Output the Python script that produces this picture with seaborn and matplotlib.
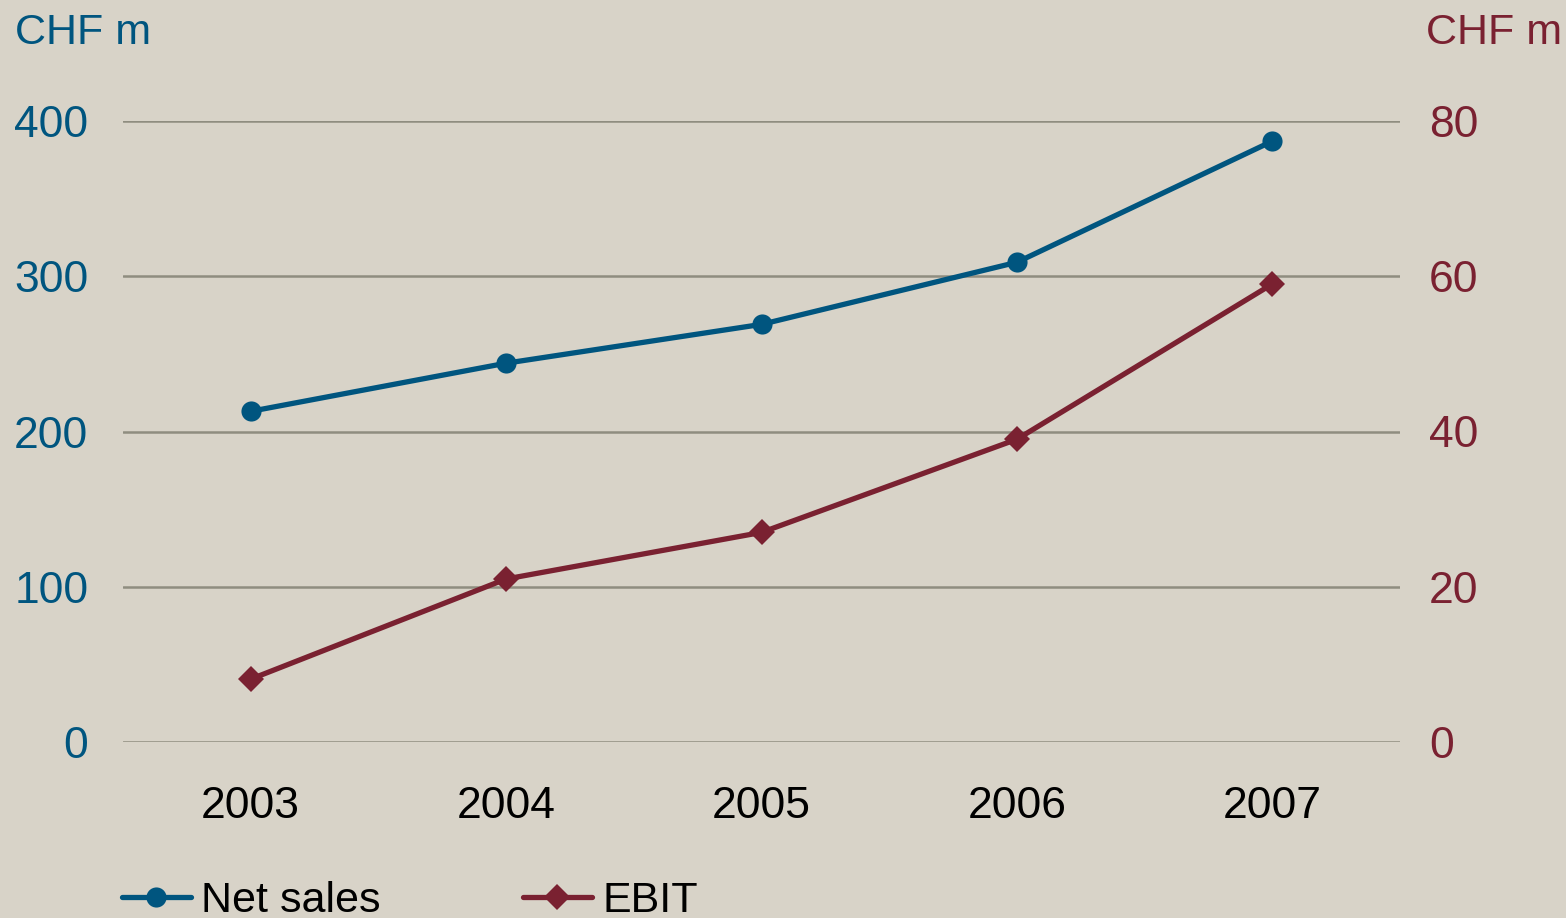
import matplotlib
matplotlib.use("Agg")
import matplotlib.pyplot as plt
import seaborn as sns
import pandas as pd
from matplotlib.lines import Line2D

years = ["2003", "2004", "2005", "2006", "2007"]
net_sales = [213, 244, 269, 309, 387]   # CHF m, left axis
ebit = [8.1, 21.0, 27.0, 39.0, 59.0]    # CHF m, right axis
left_ticks = [0, 100, 200, 300, 400]
right_ticks = [0, 20, 40, 60, 80]

BG = "#D8D3C8"
BLUE = "#00557F"
RED = "#7A2131"
GRID = "#8F8D80"

sns.set_theme(style="white")
plt.rcParams["font.family"] = ["Liberation Sans", "DejaVu Sans"]

df = pd.DataFrame({"year": years, "net_sales": net_sales, "ebit": ebit})

fig = plt.figure(figsize=(15.66, 9.18), dpi=100, facecolor=BG)
ax = fig.add_axes([123 / 1566, 1 - 742 / 918, (1400 - 123) / 1566, (742 - 121) / 918])
ax.set_facecolor(BG)
ax2 = ax.twinx()

LW = 3.8
sns.lineplot(data=df, x="year", y="net_sales", ax=ax, color=BLUE, lw=LW,
             marker="o", markersize=14.5, markeredgewidth=0, clip_on=False, zorder=5)
sns.lineplot(data=df, x="year", y="ebit", ax=ax2, color=RED, lw=LW,
             marker="D", markersize=13.5, markeredgewidth=0, clip_on=False, zorder=5)

ax.set_xlim(-0.5, 4.5)
ax.set_ylim(0, 400)
ax2.set_ylim(0, 80)
ax.set_yticks(left_ticks)
ax2.set_yticks(right_ticks)

for y in left_ticks:
    ax.axhline(y, color=GRID, lw=1.8, zorder=1)

for a in (ax, ax2):
    for s in a.spines.values():
        s.set_visible(False)
    a.set_xlabel("")
    a.set_ylabel("")
    a.grid(False)

FS = 32
ax.tick_params(axis="y", length=0, pad=25, labelsize=FS, labelcolor=BLUE)
ax2.tick_params(axis="y", length=0, pad=21, labelsize=FS, labelcolor=RED)
ax.tick_params(axis="x", length=0, pad=32, labelsize=FS, labelcolor="black")

fig.text(15 / 1566, 1 - 33 / 918, "CHF m", color=BLUE, fontsize=31,
         ha="left", va="center")
fig.text(1562 / 1566, 1 - 33 / 918, "CHF m", color=RED, fontsize=31,
         ha="right", va="center")

handles = [
    Line2D([], [], color=BLUE, lw=LW, marker="o", markersize=14.5, markeredgewidth=0),
    Line2D([], [], color=RED, lw=LW, marker="D", markersize=13.5, markeredgewidth=0),
]
leg = fig.legend(handles, ["Net sales", "EBIT"], loc="center left",
                 bbox_to_anchor=(122 / 1566, 1 - 901 / 918), ncol=2, frameon=False,
                 prop={"size": 31},
                 handlelength=1.6, handletextpad=0.24, columnspacing=3.3,
                 borderpad=0, borderaxespad=0)
for t in leg.get_texts():
    t.set_color("black")

fig.savefig("out.png", dpi=100, facecolor=BG)
